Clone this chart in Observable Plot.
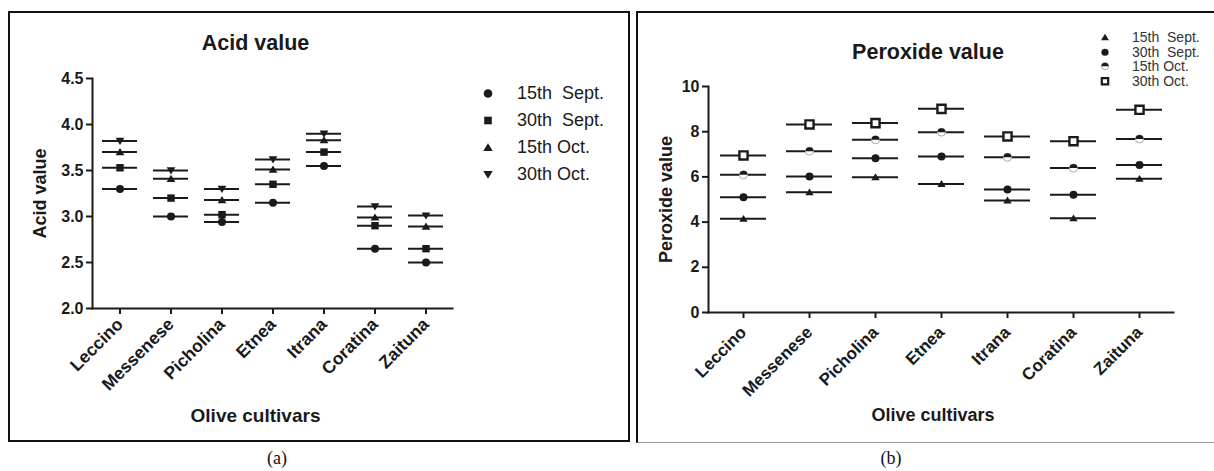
<!DOCTYPE html>
<html><head><meta charset="utf-8">
<script src="https://cdn.jsdelivr.net/npm/d3@7"></script>
<script src="https://cdn.jsdelivr.net/npm/@observablehq/plot@0.6"></script>
<style>
body{margin:0;background:#fff;overflow:hidden}
#page{position:relative;width:1214px;height:471px;overflow:hidden;font-family:"Liberation Sans",Arial,sans-serif;color:#1a1a1a}
.legend .row{display:flex;align-items:center}
.caption{position:absolute;font-family:"Liberation Serif","Times New Roman",serif;font-size:18px;transform:translate(-50%,-50%);color:#111}
</style></head><body><div id="page"></div>
<script>
// ---------- data ----------
const cultivars = ["Leccino","Messenese","Picholina","Etnea","Itrana","Coratina","Zaituna"];
const seriesNames = ["15th  Sept.","30th  Sept.","15th Oct.","30th Oct."];
// Acid value
const acid15Sept = [3.30,3.00,2.94,3.15,3.55,2.65,2.50];
const acid30Sept = [3.53,3.20,3.02,3.35,3.70,2.90,2.65];
const acid15Oct  = [3.70,3.41,3.18,3.51,3.83,2.99,2.89];
const acid30Oct  = [3.82,3.50,3.30,3.62,3.90,3.11,3.01];
const acidTicks  = [2.0,2.5,3.0,3.5,4.0,4.5];
// Peroxide value
const perox15Sept = [4.15,5.32,5.99,5.69,4.96,4.17,5.92];
const perox30Sept = [5.10,6.02,6.83,6.90,5.44,5.21,6.53];
const perox15Oct  = [6.09,7.14,7.64,7.98,6.87,6.39,7.68];
const perox30Oct  = [6.95,8.32,8.38,9.01,7.79,7.58,8.97];
const peroxTicks  = [0,2,4,6,8,10];

// ---------- helpers ----------
const rr = s => Math.sqrt(s/Math.PI);
const triUp = {draw(c,s){const r=rr(s);c.moveTo(0,-r);c.lineTo(r*1.1,r*0.8);c.lineTo(-r*1.1,r*0.8);c.closePath();}};
const triDown = {draw(c,s){const r=rr(s);c.moveTo(0,r);c.lineTo(r*1.1,-r*0.8);c.lineTo(-r*1.1,-r*0.8);c.closePath();}};
const halfTop = {draw(c,s){const r=rr(s);c.moveTo(r,0);c.arc(0,0,r,0,Math.PI,true);c.closePath();}};
const toRows = arrs => arrs.flatMap((vals,s)=>vals.map((v,i)=>({cultivar:cultivars[i],series:s,value:v})));
const rowsA = toRows([acid15Sept,acid30Sept,acid15Oct,acid30Oct]);
const rowsB = toRows([perox15Sept,perox30Sept,perox15Oct,perox30Oct]);
const FONT = '"Liberation Sans",Arial,sans-serif';
const INK = "#1a1a1a";
const page = document.getElementById("page");

function place(el,left,top){el.style.position="absolute";el.style.left=left+"px";el.style.top=top+"px";page.appendChild(el);}

// ---------- panel (a) ----------
const sA = rowsA.filter(d=>d.series===0), sA1=rowsA.filter(d=>d.series===1), sA2=rowsA.filter(d=>d.series===2), sA3=rowsA.filter(d=>d.series===3);
const plotA = Plot.plot({
  width:630, height:441, marginLeft:92, marginRight:178, marginTop:78, marginBottom:133,
  style:{background:"transparent", fontFamily:FONT, overflow:"visible", color:INK},
  x:{type:"band", domain:cultivars, padding:0},
  y:{domain:[2,4.5]},
  marks:[
    Plot.frame({anchor:"left", strokeWidth:2, stroke:INK}),
    Plot.frame({anchor:"bottom", strokeWidth:2, stroke:INK}),
    Plot.axisY({ticks:acidTicks, tickFormat:d=>d.toFixed(1), tickSize:6, tickPadding:3, fontSize:16, fontWeight:"bold", strokeWidth:2, label:null}),
    Plot.axisX({tickSize:6, tickPadding:7, tickRotate:-45, fontSize:17.5, fontWeight:"bold", strokeWidth:2, label:null}),
    Plot.tickY(rowsA, {x:"cultivar", y:"value", stroke:INK, strokeWidth:2, insetLeft:8, insetRight:8}),
    Plot.dot(sA, {x:"cultivar", y:"value", symbol:"circle", r:4, fill:INK}),
    Plot.dot(sA1, {x:"cultivar", y:"value", symbol:"square", r:4.2, fill:INK}),
    Plot.dot(sA2, {x:"cultivar", y:"value", symbol:triUp, r:4, fill:INK}),
    Plot.dot(sA3, {x:"cultivar", y:"value", symbol:triDown, r:4, fill:INK}),
    Plot.text(["Acid value"], {text:d=>d, frameAnchor:"top", lineAnchor:"middle", textAnchor:"middle", dy:-35, dx:-17, fontSize:21.5, fontWeight:"bold", fill:INK}),
    Plot.text(["Acid value"], {text:d=>d, frameAnchor:"left", lineAnchor:"middle", textAnchor:"middle", dx:-52, rotate:-90, fontSize:18, fontWeight:"bold", fill:INK}),
    Plot.text(["Olive cultivars"], {text:d=>d, frameAnchor:"bottom", lineAnchor:"middle", textAnchor:"middle", dy:107, dx:-17, fontSize:19, fontWeight:"bold", fill:INK})
  ]
});
place(plotA,0,0);

// ---------- panel (b) ----------
const sB = rowsB.filter(d=>d.series===0), sB1=rowsB.filter(d=>d.series===1), sB2=rowsB.filter(d=>d.series===2), sB3=rowsB.filter(d=>d.series===3);
const plotB = Plot.plot({
  width:584, height:442, marginLeft:78, marginRight:41, marginTop:86, marginBottom:130,
  style:{background:"transparent", fontFamily:FONT, overflow:"visible", color:INK},
  x:{type:"band", domain:cultivars, padding:0},
  y:{domain:[0,10]},
  marks:[
    Plot.frame({anchor:"left", strokeWidth:2, stroke:INK}),
    Plot.frame({anchor:"bottom", strokeWidth:2, stroke:INK}),
    Plot.axisY({ticks:peroxTicks, tickSize:6, tickPadding:3, fontSize:16, fontWeight:"bold", strokeWidth:2, label:null}),
    Plot.axisX({tickSize:6, tickPadding:11, tickRotate:-45, fontSize:17, fontWeight:"bold", strokeWidth:2, label:null}),
    Plot.tickY(rowsB, {x:"cultivar", y:"value", stroke:INK, strokeWidth:2, insetLeft:10, insetRight:10}),
    Plot.dot(sB, {x:"cultivar", y:"value", symbol:triUp, r:3.8, fill:INK}),
    Plot.dot(sB1, {x:"cultivar", y:"value", symbol:"circle", r:4, fill:INK}),
    Plot.dot(sB2, {x:"cultivar", y:"value", symbol:"circle", r:4, fill:"white", stroke:"#aaa", strokeWidth:1}),
    Plot.dot(sB2, {x:"cultivar", y:"value", symbol:halfTop, r:4, fill:INK}),
    Plot.dot(sB3, {x:"cultivar", y:"value", symbol:"square", r:4.6, fill:"white", stroke:INK, strokeWidth:2.4}),
    Plot.text(["Peroxide value"], {text:d=>d, frameAnchor:"top", lineAnchor:"middle", textAnchor:"middle", dy:-34, dx:-13, fontSize:21.5, fontWeight:"bold", fill:INK}),
    Plot.text(["Peroxide value"], {text:d=>d, frameAnchor:"left", lineAnchor:"middle", textAnchor:"middle", dx:-42, rotate:-90, fontSize:18, fontWeight:"bold", fill:INK}),
    Plot.text(["Olive cultivars"], {text:d=>d, frameAnchor:"bottom", lineAnchor:"middle", textAnchor:"middle", dy:103, dx:-8, fontSize:18, fontWeight:"bold", fill:INK})
  ]
});
place(plotB,630,0);

// ---------- frames ----------
const fA = document.createElement("div");
Object.assign(fA.style,{width:"622px",height:"431px",border:"2px solid #111",boxSizing:"border-box",pointerEvents:"none"});
place(fA,8,11);
const fB = document.createElement("div");
Object.assign(fB.style,{width:"620px",height:"432px",borderLeft:"2px solid #111",borderTop:"2px solid #111",borderBottom:"1px solid #999",boxSizing:"border-box",pointerEvents:"none"});
place(fB,636,11);

// ---------- legends ----------
function symSvg(kind, r, w, h){
  const ns="http://www.w3.org/2000/svg";
  const svg=document.createElementNS(ns,"svg");
  svg.setAttribute("width",w);svg.setAttribute("height",h);
  const g=document.createElementNS(ns,"g");g.setAttribute("transform",`translate(${w/2},${h/2})`);svg.appendChild(g);
  const add=(sym,rad,fill,stroke,sw)=>{const p=document.createElementNS(ns,"path");p.setAttribute("d",d3.symbol(sym,Math.PI*rad*rad)());p.setAttribute("fill",fill);if(stroke){p.setAttribute("stroke",stroke);p.setAttribute("stroke-width",sw);}g.appendChild(p);};
  if(kind==="circle") add(d3.symbolCircle,r,INK);
  if(kind==="square") add(d3.symbolSquare,r,INK);
  if(kind==="triUp") add(triUp,r,INK);
  if(kind==="triDown") add(triDown,r,INK);
  if(kind==="half"){add(d3.symbolCircle,r,"white","#aaa",1);add(halfTop,r,INK);}
  if(kind==="openSquare") add(d3.symbolSquare,r,"white",INK,2.2);
  return svg;
}
function legend(left,top,kinds,r,rowH,fontSize,gap,svgW,color){
  const box=document.createElement("div");box.className="legend";
  kinds.forEach((k,i)=>{
    const row=document.createElement("div");row.className="row";row.style.height=rowH+"px";
    row.appendChild(symSvg(k,r,svgW,rowH));
    const sp=document.createElement("span");sp.textContent=seriesNames[i];
    Object.assign(sp.style,{marginLeft:gap+"px",fontSize:fontSize+"px",whiteSpace:"pre",color:color,lineHeight:rowH+"px"});
    row.appendChild(sp);box.appendChild(row);
  });
  place(box,left,top);
}
legend(479,80,["circle","square","triUp","triDown"],4.3,27,18,20,18,INK);
legend(1097,30,["triUp","circle","half","openSquare"],3.6,14.5,14,19,16,"#333");

// ---------- captions ----------
[["(a)",277,458],["(b)",891,458]].forEach(([t,x,y])=>{const d=document.createElement("div");d.className="caption";d.textContent=t;d.style.left=x+"px";d.style.top=y+"px";page.appendChild(d);});
</script></body></html>
